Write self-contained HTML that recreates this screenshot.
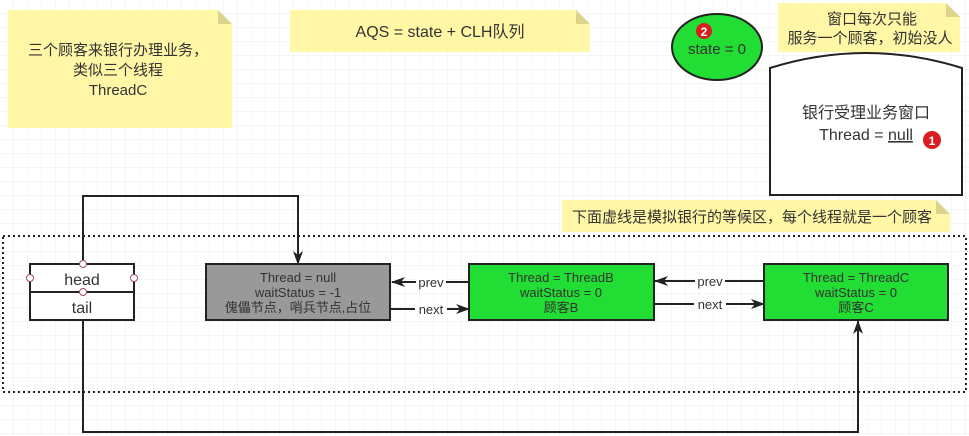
<!DOCTYPE html>
<html><head><meta charset="utf-8"><style>
html,body{margin:0;padding:0;background:#fff}
svg{display:block}
text{font-family:"Liberation Sans","Noto Sans CJK SC",sans-serif;fill:#333}
</style></head><body>
<svg width="969" height="436" viewBox="0 0 969 436" xmlns="http://www.w3.org/2000/svg">
<defs>
<pattern id="g" width="14" height="14" patternUnits="userSpaceOnUse"><path d="M14 0V14H0" fill="none" stroke="#ececec" stroke-width="1"/></pattern>
<marker id="a" markerWidth="14" markerHeight="12" refX="13" refY="6" orient="auto" markerUnits="userSpaceOnUse"><path d="M0,1 L14,6 L0,11 L4,6 Z" fill="#222"/></marker>
</defs>
<rect width="969" height="436" fill="url(#g)"/>
<path d="M8,10 H218 L232,24 V128 H8 Z" fill="#fff6a6"/><path d="M218,10 L232,24 H218 Z" fill="#dcd48a"/>
<text x="118" y="55" font-size="15" text-anchor="middle">三个顾客来银行办理业务，</text>
<text x="118" y="75" font-size="15" text-anchor="middle">类似三个线程</text>
<text x="118" y="95" font-size="15" text-anchor="middle">ThreadC</text>
<path d="M290,10 H576 L590,24 V52 H290 Z" fill="#fff6a6"/><path d="M576,10 L590,24 H576 Z" fill="#dcd48a"/>
<text x="440" y="37" font-size="16" text-anchor="middle">AQS = state + CLH队列</text>
<path d="M778,3 H946 L960,17 V52 H778 Z" fill="#fff6a6"/><path d="M946,3 L960,17 H946 Z" fill="#dcd48a"/>
<text x="872" y="24" font-size="15" text-anchor="middle">窗口每次只能</text>
<text x="870" y="43" font-size="15" text-anchor="middle">服务一个顾客，初始没人</text>
<path d="M562,200 H936 L950,214 V232 H562 Z" fill="#fff6a6"/><path d="M936,200 L950,214 H936 Z" fill="#dcd48a"/>
<text x="752" y="222" font-size="15" text-anchor="middle">下面虚线是模拟银行的等候区，每个线程就是一个顾客</text>
<ellipse cx="717" cy="47" rx="45" ry="33" fill="#22dd33" stroke="#222" stroke-width="2"/>
<circle cx="704" cy="31" r="8" fill="#d81e1e"/><text x="704" y="36" font-size="12" font-weight="bold" text-anchor="middle" style="fill:#fff">2</text>
<text x="717" y="54" font-size="15" text-anchor="middle">state = 0</text>
<path d="M770,195 V68 Q866,38 962,68 V195 Z" fill="#fff" stroke="#222" stroke-width="2"/>
<text x="866" y="118" font-size="16" text-anchor="middle">银行受理业务窗口</text>
<text x="866" y="140" font-size="16" text-anchor="middle">Thread = <tspan text-decoration="underline">null</tspan></text>
<circle cx="932" cy="140" r="9" fill="#d81e1e"/><text x="932" y="145" font-size="12" font-weight="bold" text-anchor="middle" style="fill:#fff">1</text>
<rect x="3" y="236" width="963" height="156" fill="none" stroke="#222" stroke-width="2" stroke-dasharray="2,3"/>
<polyline points="83,264 83,196 298,196 298,264" fill="none" stroke="#222" stroke-width="2" marker-end="url(#a)"/>
<polyline points="83,320 83,432 858,432 858,321" fill="none" stroke="#222" stroke-width="2" marker-end="url(#a)"/>
<rect x="30" y="264" width="104" height="56" fill="#fff" stroke="#222" stroke-width="2"/>
<line x1="30" y1="292" x2="134" y2="292" stroke="#222" stroke-width="2"/>
<text x="82" y="285" font-size="16" text-anchor="middle">head</text>
<text x="82" y="313" font-size="16" text-anchor="middle">tail</text>
<g fill="#fff" stroke="#a05060" stroke-width="1"><circle cx="83" cy="264" r="3.5"/><circle cx="30" cy="278" r="3.5"/><circle cx="134" cy="278" r="3.5"/><circle cx="83" cy="292" r="3.5"/></g>
<rect x="206" y="264" width="184" height="56" fill="#999" stroke="#222" stroke-width="2"/>
<text x="298" y="282" font-size="13" text-anchor="middle">Thread = null</text>
<text x="298" y="297" font-size="13" text-anchor="middle">waitStatus = -1</text>
<text x="298" y="312" font-size="13" text-anchor="middle">傀儡节点，哨兵节点,占位</text>
<rect x="469" y="264" width="185" height="56" fill="#22dd33" stroke="#222" stroke-width="2"/>
<text x="561" y="282" font-size="13" text-anchor="middle">Thread = ThreadB</text>
<text x="561" y="297" font-size="13" text-anchor="middle">waitStatus = 0</text>
<text x="561" y="312" font-size="13" text-anchor="middle">顾客B</text>
<rect x="764" y="264" width="184" height="56" fill="#22dd33" stroke="#222" stroke-width="2"/>
<text x="856" y="282" font-size="13" text-anchor="middle">Thread = ThreadC</text>
<text x="856" y="297" font-size="13" text-anchor="middle">waitStatus = 0</text>
<text x="856" y="312" font-size="13" text-anchor="middle">顾客C</text>
<g stroke="#222" stroke-width="2" fill="none">
<line x1="469" y1="282" x2="392" y2="282" marker-end="url(#a)"/>
<line x1="390" y1="309" x2="469" y2="309" marker-end="url(#a)"/>
<line x1="764" y1="281" x2="655" y2="281" marker-end="url(#a)"/>
<line x1="654" y1="304" x2="764" y2="304" marker-end="url(#a)"/>
</g>
<g font-size="13" text-anchor="middle">
<rect x="416" y="275" width="30" height="14" fill="#fff"/><text x="431" y="287">prev</text>
<rect x="415" y="302" width="32" height="14" fill="#fff"/><text x="431" y="314">next</text>
<rect x="695" y="274" width="30" height="14" fill="#fff"/><text x="710" y="286">prev</text>
<rect x="694" y="297" width="32" height="14" fill="#fff"/><text x="710" y="309">next</text>
</g>
</svg>
</body></html>
